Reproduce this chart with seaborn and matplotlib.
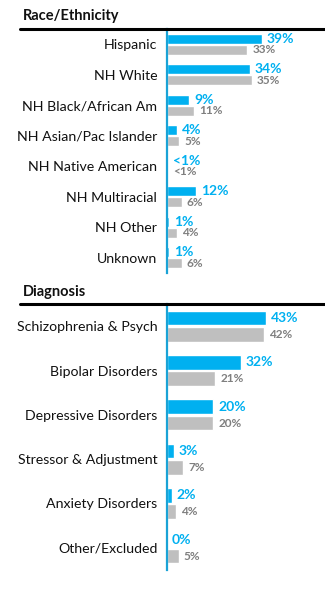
import matplotlib
matplotlib.use("Agg")
import matplotlib.pyplot as plt
from matplotlib.lines import Line2D
import pandas as pd
import seaborn as sns

# Race/Ethnicity panel
race_categories = ["Hispanic", "NH White", "NH Black/African Am", "NH Asian/Pac Islander",
                   "NH Native American", "NH Multiracial", "NH Other", "Unknown"]
race_program = [39, 34, 9, 4, 0.3, 12, 1, 1]
race_compare = [33, 35, 11, 5, 0.3, 6, 4, 6]
race_program_labels = ["39%", "34%", "9%", "4%", "<1%", "12%", "1%", "1%"]
race_compare_labels = ["33%", "35%", "11%", "5%", "<1%", "6%", "4%", "6%"]

# Diagnosis panel
dx_categories = ["Schizophrenia & Psych", "Bipolar Disorders", "Depressive Disorders",
                 "Stressor & Adjustment", "Anxiety Disorders", "Other/Excluded"]
dx_program = [43, 32, 20, 3, 2, 0]
dx_compare = [42, 21, 20, 7, 4, 5]
dx_program_labels = ["43%", "32%", "20%", "3%", "2%", "0%"]
dx_compare_labels = ["42%", "21%", "20%", "7%", "4%", "5%"]

series_names = ["Program", "Comparison"]

BLUE = "#00B0F0"
GRAY = "#BFBFBF"
GRAY_TXT = "#7F7F7F"
AXIS_BLUE = "#1AA3D6"

sns.set_theme(style="white")
plt.rcParams["font.family"] = ["Lato", "DejaVu Sans"]

W, H = 325, 599
fig = plt.figure(figsize=(W / 100, H / 100), dpi=100)


def px_axes(x0, y0, x1, y1):
    """Axes placed by pixel box (top-left origin)."""
    return fig.add_axes([x0 / W, 1 - y1 / H, (x1 - x0) / W, (y1 - y0) / H])


def long_frame(cats, a, b):
    return pd.DataFrame({
        "category": cats * 2,
        "series": [series_names[0]] * len(cats) + [series_names[1]] * len(cats),
        "value": list(a) + list(b),
    })


def draw_panel(ax, cats, a, b, la, lb, xmax, title, title_y, rule_y):
    df = long_frame(cats, a, b)
    sns.barplot(data=df, y="category", x="value", hue="series", orient="h",
                palette=[BLUE, GRAY], saturation=1, width=0.74, gap=0.12,
                legend=False, ax=ax, order=cats, hue_order=series_names,
                errorbar=None)
    ax.set_xlim(0, xmax)
    ax.set_ylim(len(cats) - 0.5, -0.5)
    ax.set_xlabel("")
    ax.set_ylabel("")
    ax.set_xticks([])
    for s in ["top", "right", "bottom"]:
        ax.spines[s].set_visible(False)
    ax.spines["left"].set_color(AXIS_BLUE)
    ax.spines["left"].set_linewidth(1.6)
    ax.tick_params(axis="y", length=0, pad=7, labelsize=10.2, labelcolor="#111111")

    for container, labels, color, size in [(ax.containers[0], la, BLUE, 10),
                                           (ax.containers[1], lb, GRAY_TXT, 8.5)]:
        for bar, text in zip(container, labels):
            yc = bar.get_y() + bar.get_height() / 2
            ax.annotate(text, xy=(bar.get_width(), yc), xytext=(5, 0),
                        textcoords="offset pixels", va="center", ha="left",
                        fontsize=size, fontweight="bold", color=color)

    fig.text(23 / W, 1 - title_y / H, title, ha="left", va="center",
             fontsize=10.5, fontweight="bold", color="#111111")
    fig.add_artist(Line2D([20 / W, 1.0], [1 - rule_y / H, 1 - rule_y / H],
                          color="black", linewidth=2.2, transform=fig.transFigure))


ax1 = px_axes(167, 29, 325, 273)
draw_panel(ax1, race_categories, race_program, race_compare,
           race_program_labels, race_compare_labels, 65, "Race/Ethnicity", 16, 28.5)

ax2 = px_axes(167, 304, 325, 570)
draw_panel(ax2, dx_categories, dx_program, dx_compare,
           dx_program_labels, dx_compare_labels, 68.5, "Diagnosis", 292, 303.5)

fig.savefig("out.png", dpi=100)
